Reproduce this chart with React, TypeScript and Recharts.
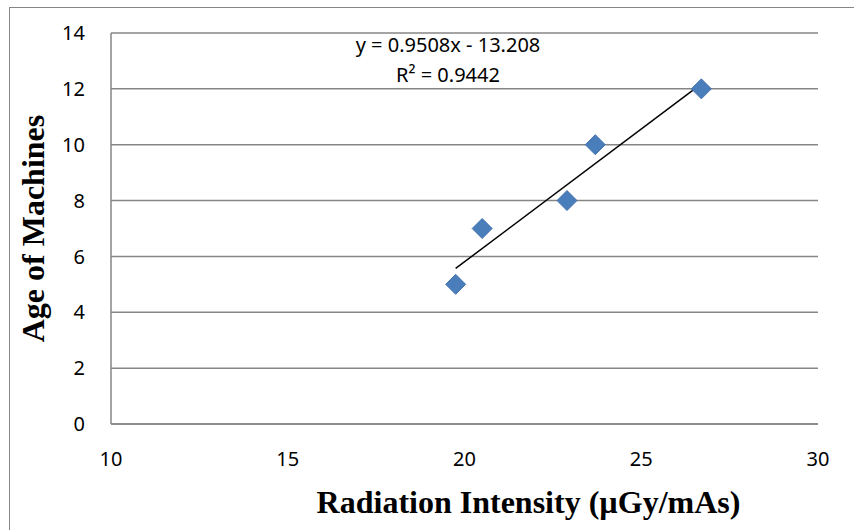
import { CartesianGrid, ReferenceLine, Scatter, ScatterChart, XAxis, YAxis } from "recharts"

const intensity = [19.75, 20.5, 22.9, 23.7, 26.7]
const age = [5, 7, 8, 10, 12]
const xTicks = [10, 15, 20, 25, 30]
const yTicks = [0, 2, 4, 6, 8, 10, 12, 14]
const slope = 0.9508
const intercept = -13.208
const equationText = "y = 0.9508x - 13.208"
const rSquaredText = "R² = 0.9442"

const points = intensity.map((x, i) => ({ x, y: age[i] }))
const xMin = Math.min(...intensity)
const xMax = Math.max(...intensity)

const tickStyle = { fill: "#000", fontSize: 20, fontFamily: "Noto Sans" }
const titleFont = "Liberation Serif"

const Diamond = (props: any) => {
  const { cx, cy } = props
  const r = 10
  return (
    <polygon
      points={`${cx},${cy - r} ${cx + r},${cy} ${cx},${cy + r} ${cx - r},${cy}`}
      fill="#4A7EBB"
      stroke="#4573AE"
      strokeWidth={1}
    />
  )
}

export default function App() {
  return (
    <div style={{ position: "absolute", left: 0, top: 0, width: 854, height: 530, background: "#fff" }}>
      <div
        style={{
          position: "absolute",
          left: 9,
          top: 7,
          right: -2,
          bottom: -2,
          borderLeft: "1.5px solid #868686",
          borderTop: "1.5px solid #868686",
        }}
      />
      <ScatterChart width={854} height={530} margin={{ top: 33, right: 36, bottom: 66, left: 51 }}>
        <CartesianGrid horizontal vertical={false} stroke="#868686" strokeWidth={1.5} />
        <XAxis
          type="number"
          dataKey="x"
          domain={[10, 30]}
          ticks={xTicks}
          tickLine={false}
          tickSize={0}
          tickMargin={28}
          height={40}
          stroke="#868686"
          strokeWidth={1.5}
          tick={tickStyle}
          label={{
            value: "Radiation Intensity (µGy/mAs)",
            position: "insideBottom",
            offset: -49,
            dx: 64,
            style: { fill: "#000", fontSize: 32, fontWeight: "bold", fontFamily: titleFont },
          }}
        />
        <YAxis
          type="number"
          dataKey="y"
          domain={[0, 14]}
          ticks={yTicks}
          tickLine={false}
          tickSize={0}
          tickMargin={26}
          width={60}
          stroke="#868686"
          strokeWidth={1.5}
          tick={tickStyle}
          label={{
            value: "Age of Machines",
            angle: -90,
            position: "insideLeft",
            offset: -18,
            style: { textAnchor: "middle", fill: "#000", fontSize: 32, fontWeight: "bold", fontFamily: titleFont },
          }}
        />
        <ReferenceLine
          segment={[
            { x: xMin, y: slope * xMin + intercept },
            { x: xMax, y: slope * xMax + intercept },
          ]}
          stroke="#000"
          strokeWidth={1.5}
        />
        <Scatter data={points} shape={Diamond} isAnimationActive={false} />
      </ScatterChart>
      <div
        style={{
          position: "absolute",
          left: 348,
          top: 30,
          width: 200,
          textAlign: "center",
          fontFamily: "Noto Sans",
          fontSize: 20,
          lineHeight: "30px",
          color: "#000",
        }}
      >
        <div>{equationText}</div>
        <div>{rSquaredText}</div>
      </div>
    </div>
  )
}
